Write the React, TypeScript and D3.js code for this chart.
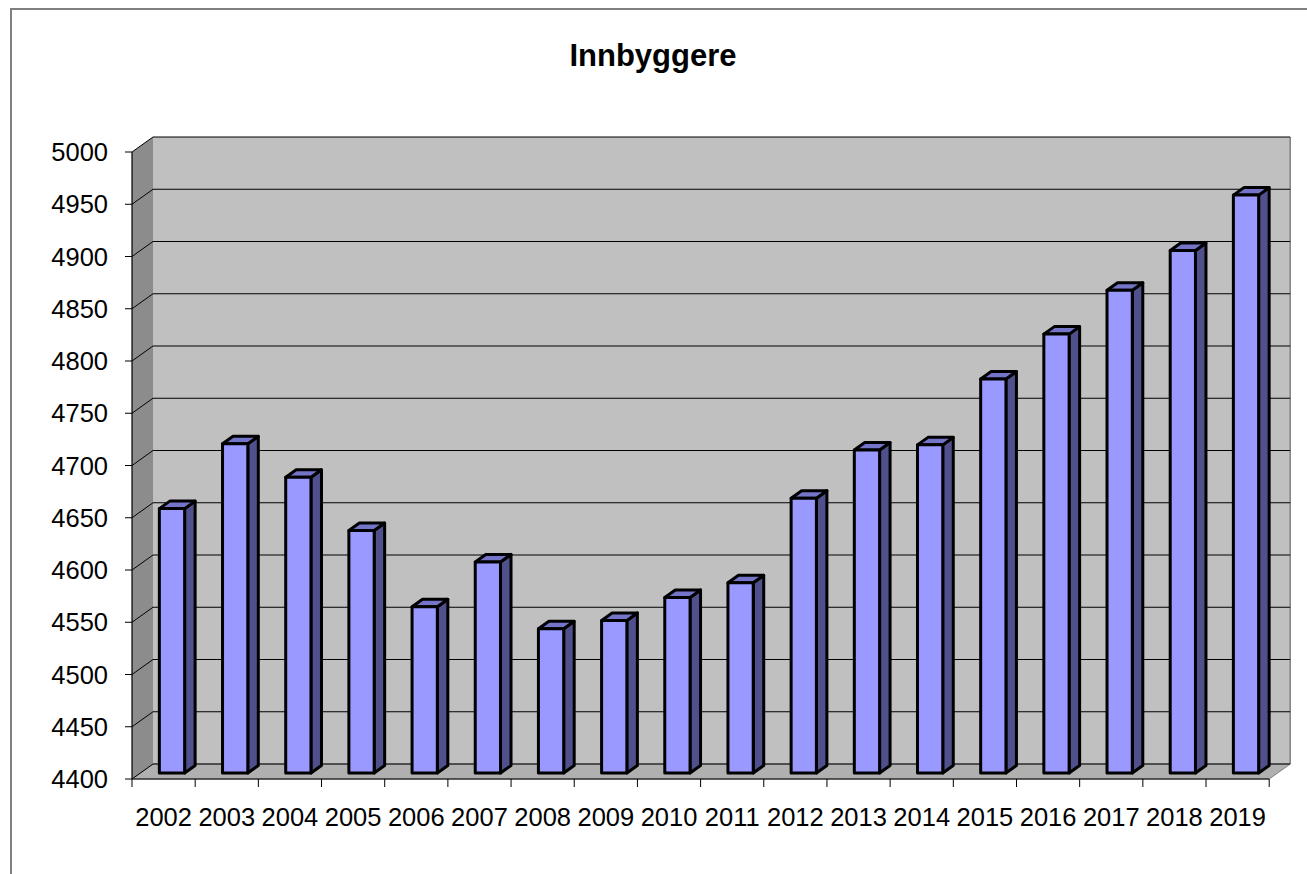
import React from "react";
import * as d3 from "d3";

const years = ["2002","2003","2004","2005","2006","2007","2008","2009","2010","2011","2012","2013","2014","2015","2016","2017","2018","2019"];
const population = [4653, 4715, 4683, 4632, 4559, 4602, 4538, 4546, 4568, 4582, 4663, 4709, 4714, 4777, 4820, 4862, 4900, 4953];
const yTicks = [4400, 4450, 4500, 4550, 4600, 4650, 4700, 4750, 4800, 4850, 4900, 4950, 5000];
const title = "Innbyggere";

const W = 1307, H = 874;
const DX = 21, DY = -15; // full depth offset
const barD0 = 0.4, barD1 = 0.9;

export default function App() {
  const x = d3.scaleBand<string>().domain(years).range([132, 1269.2]).paddingInner(0.6).paddingOuter(0.3);
  const xb = d3.scaleBand<string>().domain(years).range([132, 1269.2]).padding(0);
  const y = d3.scaleLinear().domain([4400, 5000]).range([779, 152]);
  const x0 = 132, x1 = 1269.2, yb = y(4400), yt = y(5000);
  const font = "'Liberation Sans', Arial, sans-serif";
  const pts = (p: number[][]) => p.map(q => q.join(",")).join(" ");

  return (
    <svg width={W} height={H} style={{ position: "fixed", left: 0, top: 0 }}>
      <rect x={0} y={0} width={W} height={H} fill="#fff" />
      <rect x={11} y={9} width={W + 50} height={H + 50} fill="#fff" stroke="#808080" strokeWidth={2} />
      <text x={653} y={66} textAnchor="middle" fontFamily={font} fontWeight="bold" fontSize={31}>{title}</text>
      {/* back wall */}
      <rect x={x0 + DX} y={yt + DY} width={x1 - x0} height={yb - yt} fill="#c0c0c0" />
      {/* left wall */}
      <polygon points={pts([[x0, yt], [x0 + DX, yt + DY], [x0 + DX, yb + DY], [x0, yb]])} fill="#8c8c8c" />
      {/* floor */}
      <polygon points={pts([[x0, yb], [x0 + DX, yb + DY], [x1 + DX, yb + DY], [x1, yb]])} fill="#b0b0b0" stroke="#808080" strokeWidth={1} />
      <line x1={x1 + DX} x2={x1 + DX} y1={yt + DY} y2={yb + DY} stroke="#808080" strokeWidth={1.5} />
      {/* gridlines */}
      {yTicks.map(t => (
        <g key={t}>
          <line x1={x0} y1={y(t)} x2={x0 + DX} y2={y(t) + DY} stroke="#000" strokeWidth={1} />
          <line x1={x0 + DX} y1={y(t) + DY} x2={x1 + DX} y2={y(t) + DY} stroke="#000" strokeWidth={1} />
          <line x1={x0 - 7} x2={x0} y1={y(t)} y2={y(t)} stroke="#000" strokeWidth={1} />
          <text x={108} y={y(t)} dy="0.36em" textAnchor="end" fontFamily={font} fontSize={25.5}>{t}</text>
        </g>
      ))}
      {/* bars */}
      {years.map((yr, i) => {
        const v = population[i];
        const bx = x(yr)! + DX * barD0;
        const bw = x.bandwidth();
        const ytop = y(v) + DY * barD0;
        const ybot = y(4400) + DY * barD0;
        const ddx = DX * (barD1 - barD0), ddy = DY * (barD1 - barD0);
        return (
          <g key={yr} stroke="#000" strokeWidth={3} strokeLinejoin="round">
            <polygon points={pts([[bx + bw, ytop], [bx + bw + ddx, ytop + ddy], [bx + bw + ddx, ybot + ddy], [bx + bw, ybot]])} fill="#50508c" />
            <polygon points={pts([[bx, ytop], [bx + ddx, ytop + ddy], [bx + bw + ddx, ytop + ddy], [bx + bw, ytop]])} fill="#7474c8" />
            <rect x={bx} y={ytop} width={bw} height={ybot - ytop} fill="#9999ff" />
          </g>
        );
      })}
      {/* axes */}
      <line x1={x0} x2={x0} y1={yt} y2={yb} stroke="#000" strokeWidth={1.2} />
      <line x1={x0} x2={x1} y1={yb} y2={yb} stroke="#000" strokeWidth={1.2} />
      {[...years.map(yr => xb(yr)!), x1].map((tx, i) => (
        <line key={i} x1={tx} x2={tx} y1={yb} y2={yb + 8} stroke="#000" strokeWidth={1} />
      ))}
      {years.map(yr => (
        <text key={yr} x={xb(yr)! + xb.bandwidth() / 2} y={826} textAnchor="middle" fontFamily={font} fontSize={25.5}>{yr}</text>
      ))}
    </svg>
  );
}
